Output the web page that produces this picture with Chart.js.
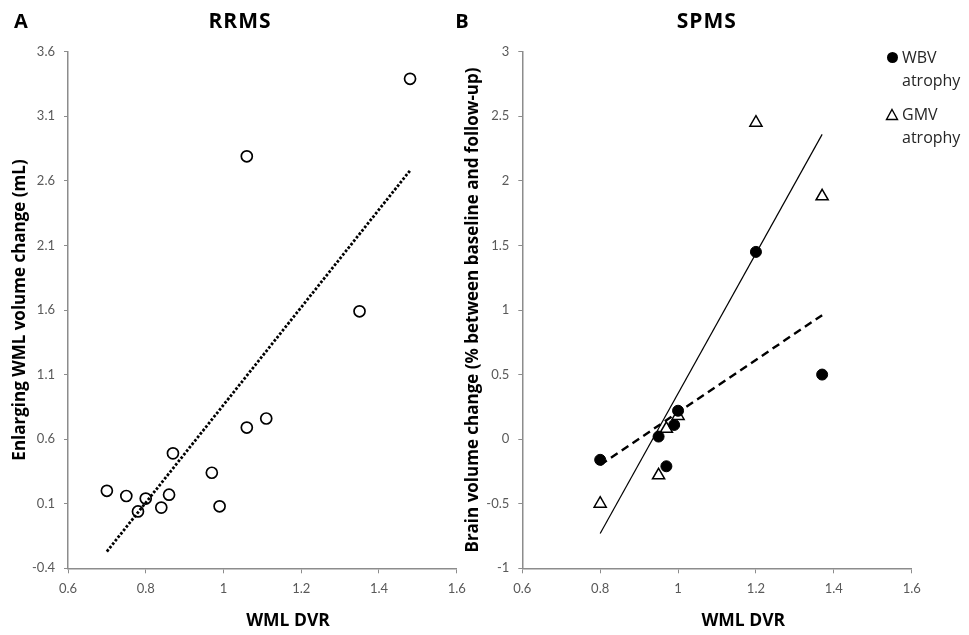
<!DOCTYPE html>
<html>
<head>
<meta charset="utf-8">
<title>WML DVR and volume change</title>
<script src="https://cdn.jsdelivr.net/npm/chart.js@4.4.1/dist/chart.umd.min.js"></script>
<style>
  html, body { margin: 0; padding: 0; background: #fff; }
  #wrap { position: relative; width: 969px; height: 635px; overflow: hidden; }
  #rrms { position: absolute; left: 0; top: 0; }
  #spms { position: absolute; left: 440px; top: 0; }
  #legend { position: absolute; left: 885px; top: 46px; font: 16px "Open Sans", sans-serif; color: #262626; }
  .item { display: flex; margin-bottom: 11px; }
  .sym { width: 17px; height: 23px; position: relative; flex: none; }
  .txt { width: 70px; line-height: 23px; }
</style>
</head>
<body>
<div id="wrap">
  <canvas id="rrms" width="480" height="635"></canvas>
  <canvas id="spms" width="529" height="635"></canvas>
  <div id="legend"></div>
</div>
<script>
// RRMS: WML DVR vs enlarging WML volume change
const rrmsDvr = [0.70, 0.75, 0.78, 0.80, 0.84, 0.86, 0.87, 0.97, 0.99, 1.06, 1.11, 1.35, 1.06, 1.48];
const rrmsWml = [0.20, 0.16, 0.04, 0.14, 0.07, 0.17, 0.49, 0.34, 0.08, 0.69, 0.76, 1.59, 2.79, 3.39];
const rrmsFitDvr = [0.70, 1.48];
const rrmsFitWml = [-0.27, 2.68];

// SPMS: WML DVR vs brain volume change
const wbvDvr = [0.80, 0.95, 0.97, 0.99, 1.00, 1.20, 1.37];
const wbvChange = [-0.16, 0.02, -0.21, 0.11, 0.22, 1.45, 0.50];
const gmvDvr = [0.80, 0.95, 0.97, 1.00, 1.20, 1.37];
const gmvChange = [-0.50, -0.28, 0.08, 0.18, 2.45, 1.88];
const wbvFitDvr = [0.80, 1.37];
const wbvFitChange = [-0.20, 0.96];
const gmvFitDvr = [0.80, 1.37];
const gmvFitChange = [-0.73, 2.36];

// tick labels
const dvrTicks = [0.6, 0.8, 1, 1.2, 1.4, 1.6];
const wmlTicks = [-0.4, 0.1, 0.6, 1.1, 1.6, 2.1, 2.6, 3.1, 3.6];
const brainTicks = [-1, -0.5, 0, 0.5, 1, 1.5, 2, 2.5, 3];

const pts = (xs, ys) => xs.map((x, i) => ({ x: x, y: ys[i] }));
const fmt = v => String(+v.toFixed(2));
const AXIS = '#8c8c8c';
const TICK = '#595959';
const TITLE_FONT = '"Open Sans", sans-serif';

// panel letter, panel title and x axis title
const captions = {
  id: 'captions',
  afterDraw(chart, args, o) {
    const ctx = chart.ctx;
    ctx.save();
    ctx.fillStyle = '#000';
    ctx.textAlign = 'center';
    ctx.textBaseline = 'middle';
    ctx.font = 'bold 20px ' + TITLE_FONT;
    ctx.fillText(o.panel, o.panelX, 22);
    ctx.font = 'bold 21px ' + TITLE_FONT;
    ctx.letterSpacing = '1px';
    ctx.fillText(o.title, o.titleX, 22);
    ctx.letterSpacing = '0px';
    ctx.font = 'bold 17.5px ' + TITLE_FONT;
    ctx.fillText(o.xTitle, o.xTitleX, 621);
    ctx.restore();
  }
};

function xAxis() {
  return {
    type: 'linear', min: 0.6, max: 1.6,
    afterBuildTicks: s => { s.ticks = dvrTicks.map(v => ({ value: v })); },
    afterFit: s => { s.height = 66.7; },
    ticks: { callback: fmt, color: TICK, font: { family: 'Lato', size: 13 }, padding: 8, maxRotation: 0, autoSkip: false },
    grid: { drawOnChartArea: false, tickLength: 5, color: AXIS },
    border: { color: AXIS, width: 1.5 }
  };
}

function yAxis(list, width, title, titlePad) {
  return {
    type: 'linear', min: list[0], max: list[list.length - 1],
    afterBuildTicks: s => { s.ticks = list.map(v => ({ value: v })); },
    afterFit: s => { s.width = width; },
    ticks: { callback: fmt, color: TICK, font: { family: 'Lato', size: 13 }, padding: 9, autoSkip: false },
    grid: { drawOnChartArea: false, tickLength: 4, color: AXIS },
    border: { color: AXIS, width: 1.5 },
    title: { display: true, text: title, color: '#000', font: { family: TITLE_FONT, size: 17, weight: 'bold' }, padding: { top: titlePad } }
  };
}

const common = {
  responsive: false,
  animation: false,
  events: [],
  plugins: { legend: { display: false }, tooltip: { enabled: false } }
};

new Chart(document.getElementById('rrms'), {
  type: 'scatter',
  data: {
    datasets: [
      {
        label: 'Linear fit',
        data: pts(rrmsFitDvr, rrmsFitWml),
        showLine: true, pointRadius: 0,
        borderColor: '#000', borderWidth: 2.8, borderDash: [2.6, 1.8]
      },
      {
        label: 'RRMS',
        data: pts(rrmsDvr, rrmsWml),
        pointRadius: 5.5, pointBackgroundColor: '#fff', pointBorderColor: '#000', pointBorderWidth: 1.7
      }
    ]
  },
  options: {
    ...common,
    layout: { padding: { left: 0, right: 23.3, top: 51.7, bottom: 0 } },
    scales: {
      x: xAxis(),
      y: yAxis(wmlTicks, 68, 'Enlarging WML volume change (mL)', 9.8)
    },
    plugins: {
      ...common.plugins,
      captions: { panel: 'A', panelX: 21, title: 'RRMS', titleX: 240, xTitle: 'WML DVR', xTitleX: 288 }
    }
  },
  plugins: [captions]
});

const spms = new Chart(document.getElementById('spms'), {
  type: 'scatter',
  data: {
    datasets: [
      {
        label: 'WBV fit',
        data: pts(wbvFitDvr, wbvFitChange),
        showLine: true, pointRadius: 0,
        borderColor: '#000', borderWidth: 2.4, borderDash: [8, 5]
      },
      {
        label: 'GMV fit',
        data: pts(gmvFitDvr, gmvFitChange),
        showLine: true, pointRadius: 0,
        borderColor: '#000', borderWidth: 1.2
      },
      {
        label: 'WBV atrophy',
        data: pts(wbvDvr, wbvChange),
        pointStyle: 'circle', pointRadius: 5.5,
        pointBackgroundColor: '#000', pointBorderColor: '#000', pointBorderWidth: 1
      },
      {
        label: 'GMV atrophy',
        data: pts(gmvDvr, gmvChange),
        pointStyle: 'triangle', pointRadius: 7,
        pointBackgroundColor: '#fff', pointBorderColor: '#000', pointBorderWidth: 1.5
      }
    ]
  },
  options: {
    ...common,
    layout: { padding: { left: 0, right: 57.3, top: 51.7, bottom: 0 } },
    scales: {
      x: xAxis(),
      y: yAxis(brainTicks, 82.3, 'Brain volume change (% between baseline and follow-up)', 22.8)
    },
    plugins: {
      ...common.plugins,
      captions: { panel: 'B', panelX: 22, title: 'SPMS', titleX: 266.7, xTitle: 'WML DVR', xTitleX: 303.3 }
    }
  },
  plugins: [captions]
});

// legend built from the marker datasets of the SPMS chart
const legend = document.getElementById('legend');
spms.data.datasets.filter(d => d.pointRadius > 0).forEach(d => {
  const item = document.createElement('div');
  item.className = 'item';
  const sym = d.pointStyle === 'triangle'
    ? '<svg width="14" height="14" style="position:absolute;left:0;top:5px"><polygon points="7,1.5 12.5,11.5 1.5,11.5" fill="#fff" stroke="#000" stroke-width="1.4"/></svg>'
    : '<div style="position:absolute;left:2px;top:6px;width:11px;height:11px;border-radius:50%;background:#000"></div>';
  item.innerHTML = '<div class="sym">' + sym + '</div><div class="txt">' + d.label + '</div>';
  legend.appendChild(item);
});
</script>
</body>
</html>
